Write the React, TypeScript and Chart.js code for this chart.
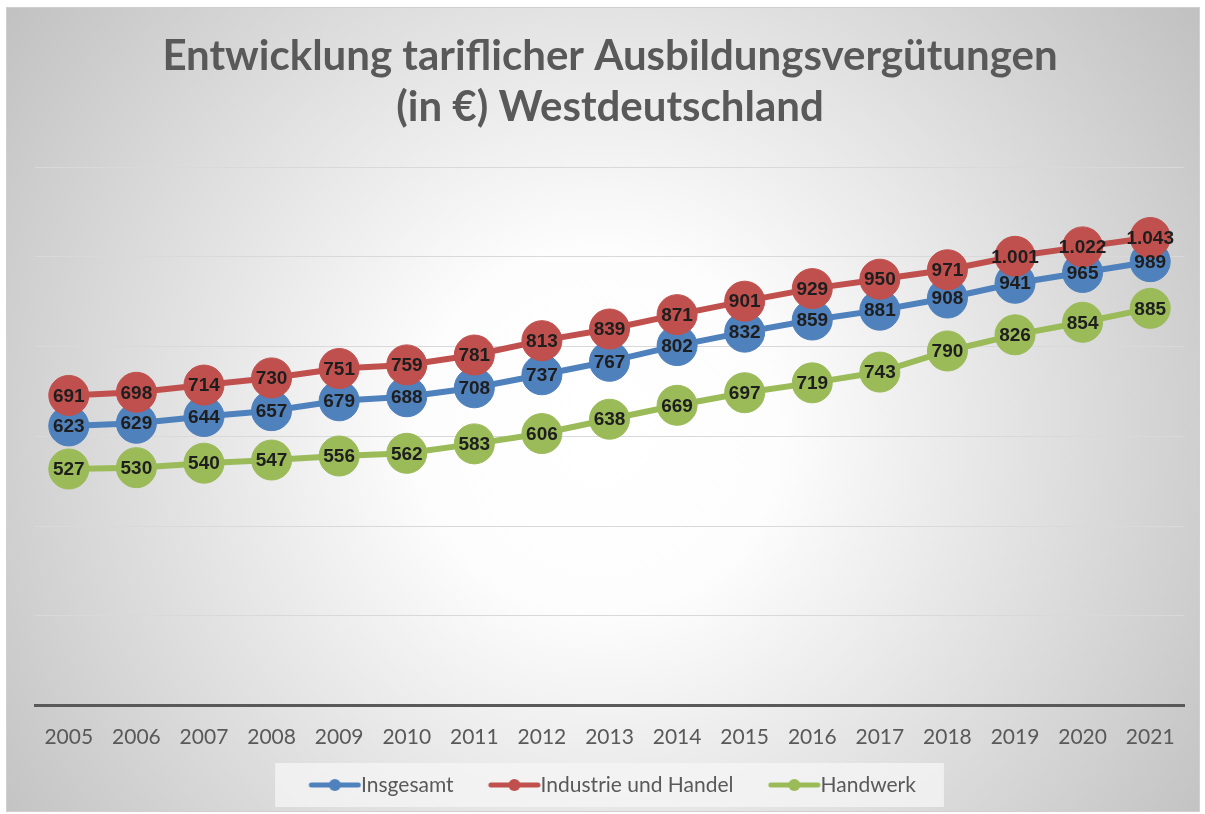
import React, { useEffect, useRef } from 'react';
import { Chart, registerables } from 'chart.js';

Chart.register(...registerables);

const years = ['2005', '2006', '2007', '2008', '2009', '2010', '2011', '2012', '2013', '2014', '2015', '2016', '2017', '2018', '2019', '2020', '2021'];
const insgesamt = [623, 629, 644, 657, 679, 688, 708, 737, 767, 802, 832, 859, 881, 908, 941, 965, 989];
const industrieUndHandel = [691, 698, 714, 730, 751, 759, 781, 813, 839, 871, 901, 929, 950, 971, 1001, 1022, 1043];
const handwerk = [527, 530, 540, 547, 556, 562, 583, 606, 638, 669, 697, 719, 743, 790, 826, 854, 885];
const seriesNames = ['Insgesamt', 'Industrie und Handel', 'Handwerk'];
const titleLines = ['Entwicklung tariflicher Ausbildungsvergütungen', '(in €) Westdeutschland'];
const yMin = 0;
const yMax = 1200;
const yStep = 200;

const COLORS = ['#4f81bd', '#c0504d', '#9bbb59'];
const TEXT_GRAY = '#595959';
const FONT = 'Lato, "Open Sans", sans-serif';
const LEGEND_FONT = 21;
const LEGEND_PAD = 30;
const LINE_LEAD = 4; // transparent lead before the marker line
const MARKER_LEN = 53;
const BOX_W = MARKER_LEN + LINE_LEAD - LEGEND_FONT / 2;
const ICON_W = Math.round(BOX_W + LEGEND_FONT);

function fmt(n: number): string {
  if (n >= 1000) {
    const th = Math.floor(n / 1000);
    const rest = String(n % 1000).padStart(3, '0');
    return th + '.' + rest;
  }
  return String(n);
}

function legendIcon(color: string): HTMLCanvasElement {
  const c = document.createElement('canvas');
  c.width = ICON_W;
  c.height = 14;
  const g = c.getContext('2d')!;
  const start = ICON_W - MARKER_LEN;
  g.strokeStyle = color;
  g.lineWidth = 5;
  g.lineCap = 'round';
  g.beginPath();
  g.moveTo(start + 3, 7);
  g.lineTo(ICON_W - 3, 7);
  g.stroke();
  g.fillStyle = color;
  g.beginPath();
  g.arc(start + MARKER_LEN / 2, 7, 6, 0, Math.PI * 2);
  g.fill();
  return c;
}

const backgroundPlugin = {
  id: 'bgPlugin',
  beforeDraw(chart: any) {
    const { ctx, width, height } = chart;
    ctx.save();
    ctx.fillStyle = '#ffffff';
    ctx.fillRect(0, 0, width, height);
    const x0 = 6, y0 = 7, x1 = 1200, y1 = 812;
    const grad = ctx.createRadialGradient(600, 430, 0, 600, 430, 720);
    grad.addColorStop(0, '#ffffff');
    grad.addColorStop(0.25, '#fdfdfd');
    grad.addColorStop(1, '#c2c2c2');
    ctx.fillStyle = grad;
    ctx.fillRect(x0, y0, x1 - x0, y1 - y0);
    ctx.strokeStyle = '#d0d0d0';
    ctx.lineWidth = 1;
    ctx.strokeRect(x0 + 0.5, y0 + 0.5, x1 - x0 - 1, y1 - y0 - 1);
    const lg = chart.legend;
    if (lg && lg.legendHitBoxes && lg.legendHitBoxes.length) {
      const hb = lg.legendHitBoxes;
      const first = hb[0];
      const last = hb[hb.length - 1];
      const left = first.left + LINE_LEAD - 33;
      const right = last.left + last.width + 28;
      const cy = first.top + first.height / 2;
      ctx.fillStyle = 'rgba(246,246,246,0.75)';
      ctx.fillRect(left, cy - 22, right - left, 44);
    }
    ctx.restore();
  },
};

const labelPlugin = {
  id: 'valueLabels',
  afterDatasetsDraw(chart: any) {
    const ctx = chart.ctx;
    ctx.save();
    ctx.font = 'bold 19px "Liberation Sans", Arial, sans-serif';
    ctx.fillStyle = '#1e1e1e';
    ctx.textAlign = 'center';
    ctx.textBaseline = 'middle';
    chart.data.datasets.forEach((ds: any, i: number) => {
      const meta = chart.getDatasetMeta(i);
      meta.data.forEach((pt: any, j: number) => {
        ctx.fillText(fmt(ds.data[j]), pt.x, pt.y + 1);
      });
    });
    ctx.restore();
  },
};

export default function App() {
  const ref = useRef<HTMLCanvasElement | null>(null);

  useEffect(() => {
    document.body.style.margin = '0';
    const canvas = ref.current;
    if (!canvas) return;
    const values = [insgesamt, industrieUndHandel, handwerk];
    const orders = [3, 2, 1];
    const chart = new Chart(canvas, {
      type: 'line',
      data: {
        labels: years,
        datasets: values.map((v, i) => ({
          label: seriesNames[i],
          data: v,
          borderColor: COLORS[i],
          backgroundColor: COLORS[i],
          borderWidth: 6,
          pointRadius: 20,
          pointBorderWidth: 1,
          pointBackgroundColor: COLORS[i],
          pointBorderColor: COLORS[i],
          tension: 0,
          order: orders[i],
        })),
      },
      options: {
        responsive: false,
        animation: false,
        layout: { padding: { left: 35, right: 20, top: 0, bottom: 8.5 } },
        plugins: {
          tooltip: { enabled: false },
          title: {
            display: true,
            text: titleLines,
            color: TEXT_GRAY,
            font: { family: FONT, size: 42, weight: 'bold', lineHeight: 51 / 42 },
            padding: { top: 31, bottom: 34 },
          },
          legend: {
            position: 'bottom',
            labels: {
              usePointStyle: true,
              pointStyleWidth: BOX_W,
              padding: LEGEND_PAD,
              color: TEXT_GRAY,
              font: { family: FONT, size: LEGEND_FONT },
              generateLabels: (ch: any) =>
                ch.data.datasets.map((ds: any, i: number) => ({
                  text: ds.label,
                  fillStyle: COLORS[i],
                  strokeStyle: COLORS[i],
                  lineWidth: 0,
                  pointStyle: legendIcon(COLORS[i]),
                  datasetIndex: i,
                  hidden: false,
                  fontColor: TEXT_GRAY,
                })),
            },
          },
        },
        scales: {
          x: {
            offset: true,
            grid: { display: false, drawTicks: false },
            border: { display: true, color: TEXT_GRAY, width: 3 },
            ticks: { color: TEXT_GRAY, font: { family: FONT, size: 21 }, padding: 19, maxRotation: 0, autoSkip: false },
            afterFit: (s: any) => { s.height = 39; },
          },
          y: {
            min: yMin,
            max: yMax,
            ticks: { stepSize: yStep, display: false },
            grid: { color: '#d9d9d9', drawTicks: false, lineWidth: 1 },
            border: { display: false },
            afterFit: (s: any) => { s.width = 0; },
          },
        },
      },
      plugins: [backgroundPlugin, labelPlugin],
    } as any);
    return () => chart.destroy();
  }, []);

  return (
    <div style={{ width: 1205, height: 814 }}>
      <canvas ref={ref} width={1205} height={814} style={{ display: 'block', width: 1205, height: 814 }} />
    </div>
  );
}
